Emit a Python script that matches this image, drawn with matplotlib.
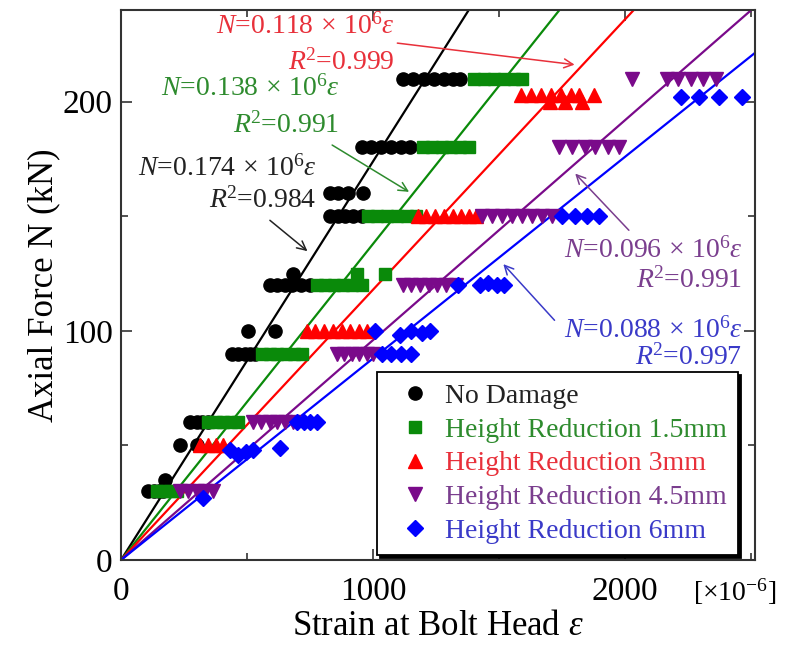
import numpy as np
import matplotlib
matplotlib.use("Agg")
import matplotlib.pyplot as plt
from matplotlib.ticker import MultipleLocator

plt.rcParams["font.family"] = ["Liberation Serif", "DejaVu Serif"]
plt.rcParams["mathtext.fontset"] = "custom"
plt.rcParams["mathtext.rm"] = "Liberation Serif"
plt.rcParams["mathtext.it"] = "Liberation Serif:italic"

# strain [x10^-6] and axial force [kN]
nodmg_strain = [107, 130, 150, 166, 174, 234, 301, 273, 300, 320, 345,
                440, 465, 490, 510, 531, 503, 610,
                590, 620, 650, 680, 715, 749, 681,
                828, 860, 890, 920, 954, 828, 860, 900, 958,
                954, 990, 1030, 1070, 1110, 1145,
                1117, 1160, 1200, 1240, 1280, 1315, 1343]
nodmg_load = [30, 30, 30, 30, 35, 50, 50, 60, 60, 60, 60,
              90, 90, 90, 90, 90, 100, 100,
              120, 120, 120, 120, 120, 120, 125,
              150, 150, 150, 150, 150, 160, 160, 160, 160,
              180, 180, 180, 180, 180, 180,
              210, 210, 210, 210, 210, 210, 210]

hr15_strain = [142, 170, 195, 222, 345, 375, 405, 435, 463,
               558, 590, 620, 655, 685, 717, 776, 810, 845, 880, 915, 954,
               935, 1046, 978, 1015, 1055, 1095, 1135, 1172,
               1196, 1235, 1275, 1310, 1345, 1382,
               1402, 1440, 1480, 1520, 1560, 1592]
hr15_load = [30, 30, 30, 30, 60, 60, 60, 60, 60,
             90, 90, 90, 90, 90, 90, 120, 120, 120, 120, 120, 120,
             125, 125, 150, 150, 150, 150, 150, 150,
             180, 180, 180, 180, 180, 180,
             210, 210, 210, 210, 210, 210]

hr3_strain = [313, 345, 375, 404, 737, 770, 805, 840, 875, 910, 945, 974,
              1176, 1210, 1245, 1280, 1315, 1350, 1380, 1410,
              1588, 1625, 1665, 1705, 1745, 1785, 1818, 1877, 1700, 1760, 1830]
hr3_load = [50, 50, 50, 50, 100, 100, 100, 100, 100, 100, 100, 100,
            150, 150, 150, 150, 150, 150, 150, 150,
            203, 203, 203, 203, 203, 203, 203, 203, 200, 200, 200]

hr45_strain = [234, 265, 300, 335, 364, 523, 555, 590, 620, 650, 681,
               855, 885, 915, 945, 975, 998,
               1117, 1150, 1185, 1220, 1255, 1290, 1330,
               1430, 1470, 1510, 1550, 1590, 1630, 1670, 1711,
               1739, 1790, 1840, 1880, 1930, 1976,
               2028, 2166, 2210, 2260, 2310, 2360]
hr45_load = [30, 30, 30, 30, 30, 60, 60, 60, 60, 60, 60,
             90, 90, 90, 90, 90, 90,
             120, 120, 120, 120, 120, 120, 120,
             150, 150, 150, 150, 150, 150, 150, 150,
             180, 180, 180, 180, 180, 180,
             210, 210, 210, 210, 210, 210]

hr6_strain = [325, 432, 465, 495, 523, 630, 697, 725, 750, 776,
              1034, 1070, 1110, 1152, 1006, 1105, 1150, 1195, 1224,
              1335, 1422, 1455, 1490, 1520,
              1750, 1800, 1850, 1897, 2222, 2293, 2372, 2463]
hr6_load = [27, 48, 46, 47, 48, 49, 60, 60, 60, 60,
            90, 90, 90, 90, 100, 98, 100, 99, 100,
            120, 120, 121, 120, 120,
            150, 150, 150, 150, 202, 202, 202, 202]

slopes = [0.174, 0.138, 0.118, 0.096, 0.088]
r2 = [0.984, 0.991, 0.999, 0.991, 0.997]
labels = ["No Damage", "Height Reduction 1.5mm", "Height Reduction 3mm",
          "Height Reduction 4.5mm", "Height Reduction 6mm"]
colors = ["#000000", "#0a8a0a", "#ff0000", "#7a0a8a", "#0000ff"]
text_colors = ["#222222", "#2e8b2e", "#e8303a", "#7a3e8e", "#3a3ac8"]
markers = ["o", "s", "^", "v", "D"]
msizes = [9.5, 8.5, 9.5, 9.5, 8]

series = [(nodmg_strain, nodmg_load), (hr15_strain, hr15_load),
          (hr3_strain, hr3_load), (hr45_strain, hr45_load),
          (hr6_strain, hr6_load)]

fig = plt.figure(figsize=(7.89, 6.45), dpi=100)
ax = fig.add_axes([0.1534, 0.1318, 0.8036, 0.8527])

xmax, ymax = 2515, 240
xs = np.linspace(0, xmax, 200)
for k, c in zip(slopes, colors):
    ax.plot(xs, k * xs, color=c, lw=1.6, zorder=2)

handles = []
for (sx, sy), c, m, ms, lab in zip(series, colors, markers, msizes, labels):
    h, = ax.plot(sx, sy, ls="none", marker=m, ms=ms, color=c, mec=c,
                 label=lab, zorder=3)
    handles.append(h)

# fit equations with arrows: (text right x, eq y, R2 y, arrow tail, arrow head)
notes = [
    (776, 171, 157, (582, 149), (748, 134)),
    (867, 205.6, 189.5, (828, 181.7), (1152, 160)),
    (1085, 233, 217, (1085, 225.7), (1810, 216)),
    (2463, 135, 122, (2022, 143), (1794, 169.5)),
    (2463, 100, 88.5, (1727, 103.7), (1509, 130)),
]
for (tx, ty1, ty2, tail, head), k, r, tc in zip(notes, slopes, r2, text_colors):
    ax.text(tx, ty1, r"$N$=%.3f$\,\times\,$10$^6$$\varepsilon$" % k, color=tc,
            fontsize=20, ha="right", va="center", zorder=5)
    ax.text(tx, ty2, r"$R$$^2$=%.3f" % r, color=tc, fontsize=20,
            ha="right", va="center", zorder=5)
    ax.annotate("", xy=head, xytext=tail,
                arrowprops=dict(arrowstyle="->", color=tc, lw=1.1,
                                mutation_scale=16), zorder=5)

ax.set_xlim(0, xmax)
ax.set_ylim(0, ymax)
ax.xaxis.set_major_locator(MultipleLocator(1000))
ax.xaxis.set_minor_locator(MultipleLocator(500))
ax.yaxis.set_major_locator(MultipleLocator(100))
ax.yaxis.set_minor_locator(MultipleLocator(50))
ax.tick_params(which="both", direction="in", top=True, right=True,
               labelsize=24, width=1.2, colors="#333333", labelcolor="black")
ax.tick_params(which="major", length=8, pad=6)
ax.tick_params(axis="x", which="major", pad=12)
ax.tick_params(which="minor", length=5)
for sp in ax.spines.values():
    sp.set_linewidth(1.5)
    sp.set_color("#333333")

ax.set_xlabel(r"Strain at Bolt Head $\varepsilon$", fontsize=25, labelpad=2)
ax.set_ylabel("Axial Force N (kN)", fontsize=25, labelpad=2)
ax.text(0.902, -0.03, r"[$\times$10$^{-6}$]", transform=ax.transAxes,
        fontsize=20, ha="left", va="top")

leg = ax.legend(handles=handles, loc="lower left", bbox_to_anchor=(0.404, 0.009),
                fontsize=20, frameon=True, fancybox=False, handlelength=1.9,
                handletextpad=0.15, borderpad=0.4, labelspacing=0.3,
                borderaxespad=0, shadow={"color": "black", "alpha": 1.0})
leg.get_frame().set_edgecolor("black")
leg.get_frame().set_linewidth(1.3)
leg.set_zorder(6)
for t, c in zip(leg.get_texts(), text_colors):
    t.set_color(c)

fig.savefig("out.png", dpi=100)
